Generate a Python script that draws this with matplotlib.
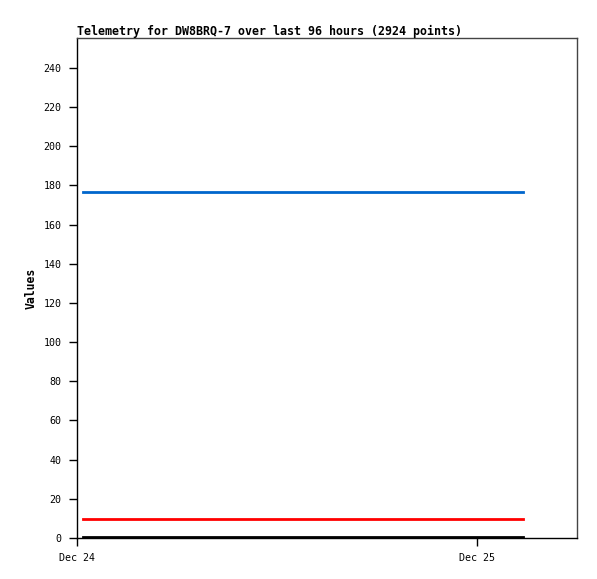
import matplotlib
matplotlib.use("Agg")
import matplotlib.pyplot as plt
from datetime import datetime

times = [datetime(2023, 12, 24, 0, 22), datetime(2023, 12, 25, 2, 45)]
blue_vals = [176.6, 176.6]
red_vals = [9.8, 9.8]
black_vals = [0.4, 0.4]
x_ticks = [datetime(2023, 12, 24), datetime(2023, 12, 25)]
x_ticklabels = ["Dec 24", "Dec 25"]
y_ticks = list(range(0, 241, 20))

fig = plt.figure(figsize=(5.97, 5.79), dpi=100)
ax = fig.add_axes([77/597, 41/579, 500/597, 500/579])
ax.plot(times, blue_vals, color="#0066cc", lw=2)
ax.plot(times, red_vals, color="#ff0000", lw=2)
ax.plot(times, black_vals, color="#000000", lw=2)

ax.set_xlim(datetime(2023, 12, 24), datetime(2023, 12, 25, 6, 0))
ax.set_ylim(0, 255.3)
ax.set_xticks(x_ticks)
ax.set_xticklabels(x_ticklabels, family="DejaVu Sans Mono", fontsize=7.2)
ax.set_yticks(y_ticks)
ax.set_yticklabels([str(v) for v in y_ticks], family="DejaVu Sans Mono", fontsize=7.2)
ax.tick_params(axis="y", direction="out", length=6, width=1, pad=5)
ax.tick_params(axis="x", direction="out", length=5.5, width=1, pad=5)
for s in ax.spines.values():
    s.set_linewidth(1)
    s.set_color("#444444")
ax.spines["left"].set_color("black")
ax.spines["bottom"].set_color("black")
ax.set_ylabel("Values", family="DejaVu Sans Mono", fontweight="bold", fontsize=8.3)
ax.yaxis.set_label_coords((38 - 77) / 500, 0.5)
fig.text(77/597, 1 - 31/579, "Telemetry for DW8BRQ-7 over last 96 hours (2924 points)",
         family="DejaVu Sans Mono", fontweight="bold", fontsize=8.4, ha="left", va="center")
fig.savefig("out.png", dpi=100)
